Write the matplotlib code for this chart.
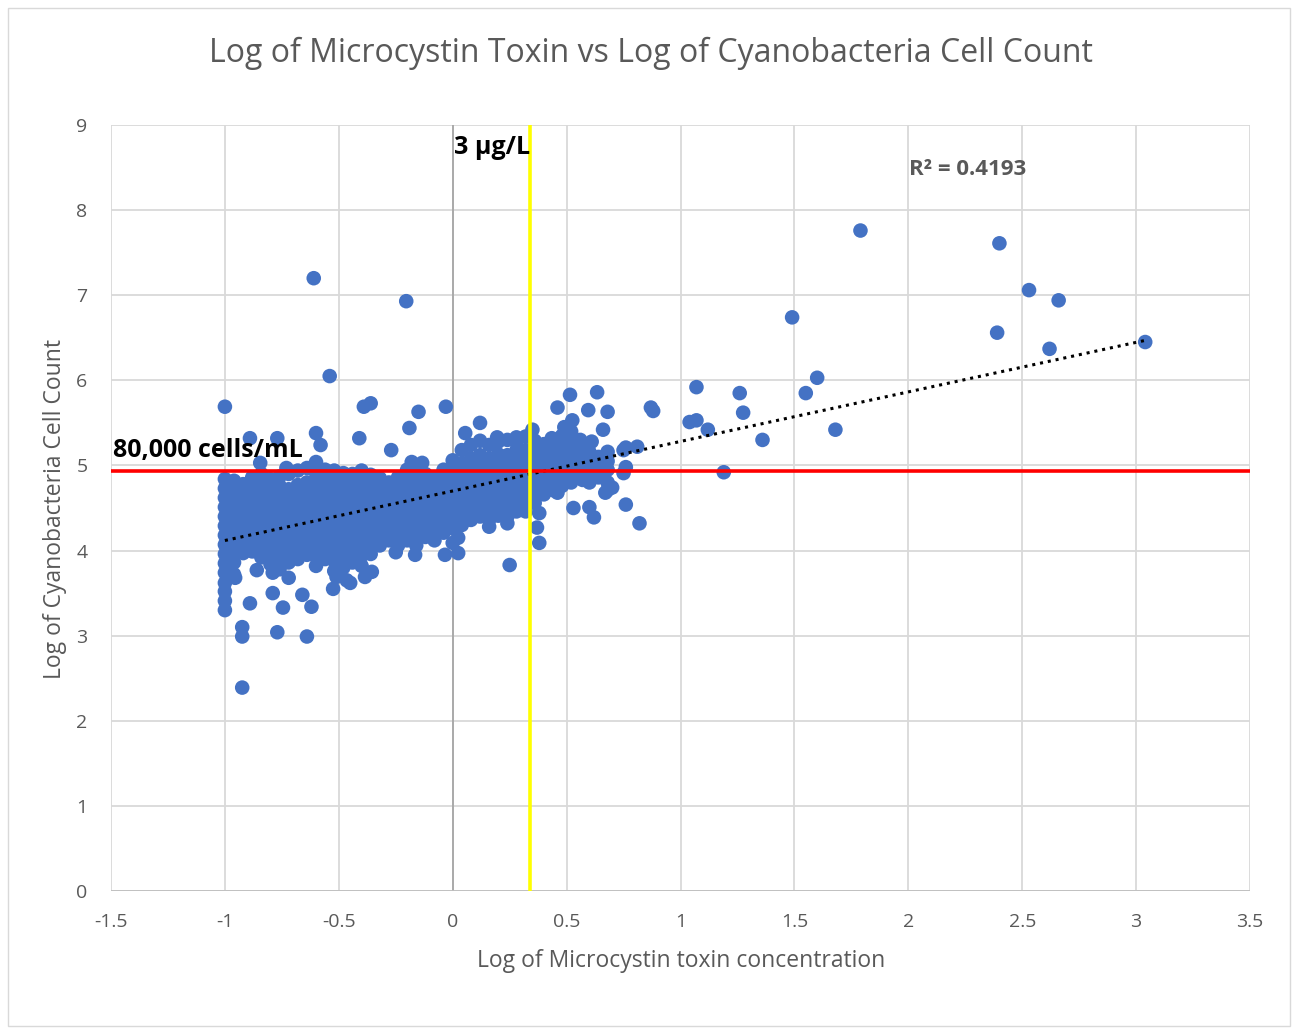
import matplotlib
matplotlib.use("Agg")
import matplotlib.pyplot as plt
from matplotlib.patches import Rectangle
import numpy as np

# ---------------- data ----------------
title = "Log of Microcystin Toxin vs Log of Cyanobacteria Cell Count"
x_label = "Log of Microcystin toxin concentration"
y_label = "Log of Cyanobacteria Cell Count"
x_ticks = [-1.5, -1, -0.5, 0, 0.5, 1, 1.5, 2, 2.5, 3, 3.5]
x_tick_labels = ["-1.5", "-1", "-0.5", "0", "0.5", "1", "1.5", "2", "2.5", "3", "3.5"]
y_ticks = [0, 1, 2, 3, 4, 5, 6, 7, 8, 9]

toxin_threshold = 0.34      # "3 µg/L" line (x)
cell_threshold = 4.935      # "80,000 cells/mL" line (y)
trend_slope = 0.582
trend_intercept = 4.70
trend_x_range = [-1.0, 3.04]
r_squared = "R² = 0.4193"

# dense cluster: columns of x with their y readings
dense_columns = [
    (-1.00, [3.52, 3.62, 3.74, 3.85, 3.96, 4.07, 4.18, 4.29, 4.40, 4.51, 4.62, 4.73, 4.84]),
    (-0.96, [3.72, 3.86, 3.98, 4.10, 4.22, 4.35, 4.46, 4.58, 4.70, 4.82]),
    (-0.92, [3.97, 4.08, 4.20, 4.31, 4.43, 4.55, 4.66, 4.78]),
    (-0.88, [3.99, 4.11, 4.24, 4.36, 4.47, 4.60, 4.72, 4.86]),
    (-0.84, [3.92, 4.04, 4.16, 4.28, 4.40, 4.52, 4.64, 4.76, 4.90]),
    (-0.80, [3.84, 3.96, 4.09, 4.21, 4.33, 4.45, 4.57, 4.70, 4.84]),
    (-0.76, [3.78, 3.90, 4.02, 4.15, 4.27, 4.39, 4.51, 4.63, 4.76, 4.87]),
    (-0.72, [3.86, 3.98, 4.10, 4.22, 4.35, 4.47, 4.60, 4.72, 4.90]),
    (-0.68, [3.90, 4.03, 4.15, 4.27, 4.40, 4.52, 4.64, 4.77, 4.94]),
    (-0.64, [3.95, 4.07, 4.19, 4.31, 4.43, 4.56, 4.68, 4.80, 4.97]),
    (-0.60, [3.82, 3.94, 4.06, 4.18, 4.30, 4.42, 4.55, 4.67, 4.79, 4.91, 5.04]),
    (-0.56, [3.90, 4.02, 4.14, 4.26, 4.38, 4.50, 4.62, 4.74, 4.86, 4.95]),
    (-0.52, [3.76, 3.88, 4.00, 4.13, 4.25, 4.37, 4.49, 4.61, 4.73, 4.85, 4.94]),
    (-0.48, [3.80, 3.93, 4.05, 4.17, 4.29, 4.41, 4.54, 4.66, 4.78, 4.91]),
    (-0.44, [3.86, 3.98, 4.10, 4.22, 4.35, 4.47, 4.59, 4.71, 4.83, 4.90]),
    (-0.40, [3.82, 3.94, 4.06, 4.19, 4.31, 4.43, 4.55, 4.68, 4.80, 4.94]),
    (-0.36, [3.96, 4.08, 4.20, 4.32, 4.45, 4.57, 4.69, 4.81, 4.89]),
    (-0.32, [4.06, 4.18, 4.30, 4.42, 4.54, 4.66, 4.78, 4.85]),
    (-0.28, [4.12, 4.24, 4.36, 4.48, 4.60, 4.72, 4.80]),
    (-0.24, [4.06, 4.18, 4.30, 4.42, 4.54, 4.66, 4.78, 4.86]),
    (-0.20, [4.12, 4.24, 4.36, 4.48, 4.60, 4.72, 4.84, 4.95]),
    (-0.16, [4.06, 4.18, 4.30, 4.42, 4.54, 4.66, 4.78, 4.93]),
    (-0.12, [4.16, 4.28, 4.40, 4.52, 4.64, 4.76, 4.90]),
    (-0.08, [4.12, 4.24, 4.36, 4.48, 4.60, 4.72, 4.85]),
    (-0.04, [4.21, 4.33, 4.45, 4.57, 4.69, 4.81, 4.95]),
    (0.00, [4.26, 4.38, 4.50, 4.62, 4.74, 4.86, 4.98, 5.06]),
    (0.04, [4.30, 4.42, 4.54, 4.66, 4.78, 4.90, 5.02, 5.18]),
    (0.08, [4.36, 4.48, 4.60, 4.72, 4.84, 4.96, 5.08, 5.24]),
    (0.12, [4.40, 4.52, 4.64, 4.76, 4.88, 5.00, 5.12, 5.29]),
    (0.16, [4.36, 4.48, 4.60, 4.72, 4.84, 4.96, 5.08, 5.24]),
    (0.20, [4.41, 4.53, 4.65, 4.77, 4.89, 5.01, 5.13, 5.28]),
    (0.24, [4.40, 4.52, 4.64, 4.76, 4.88, 5.00, 5.12, 5.30]),
    (0.28, [4.46, 4.58, 4.70, 4.82, 4.94, 5.06, 5.18, 5.28]),
    (0.32, [4.46, 4.58, 4.70, 4.82, 4.94, 5.06, 5.18, 5.34]),
    (0.36, [4.56, 4.68, 4.80, 4.92, 5.04, 5.16, 5.29]),
    (0.40, [4.66, 4.78, 4.90, 5.02, 5.14, 5.25]),
    (0.44, [4.71, 4.83, 4.95, 5.07, 5.19]),
    (0.48, [4.76, 4.88, 5.00, 5.12, 5.24, 5.35]),
    (0.52, [4.80, 4.92, 5.04, 5.16, 5.28, 5.40]),
    (0.56, [4.86, 4.98, 5.10, 5.22, 5.30]),
    (0.60, [4.80, 4.92, 5.04, 5.16]),
    (0.64, [4.86, 4.98, 5.10]),
    (0.68, [4.80, 4.95, 5.05]),
]

upper_left_points = [
    (-1.00, 5.69), (-0.61, 7.20), (-0.204, 6.93), (-0.54, 6.05), (-0.39, 5.69),
    (-0.36, 5.73), (-0.15, 5.63), (-0.03, 5.69), (-0.19, 5.44), (-0.41, 5.32),
    (-0.27, 5.18), (-0.60, 5.38), (-0.58, 5.24), (-0.89, 5.32), (-0.77, 5.32),
    (-0.845, 5.03), (-0.73, 4.97), (-0.18, 5.04), (-0.134, 5.03),
]

lower_points = [
    (-1.00, 3.41), (-1.00, 3.30), (-0.89, 3.38), (-0.924, 3.10), (-0.924, 2.99),
    (-0.77, 3.04), (-0.64, 2.99), (-0.924, 2.39), (-0.79, 3.50), (-0.745, 3.33),
    (-0.66, 3.48), (-0.62, 3.34), (-0.86, 3.77), (-0.955, 3.68), (-0.79, 3.74),
    (-0.72, 3.68), (-0.525, 3.55), (-0.465, 3.65), (-0.385, 3.69), (-0.355, 3.75),
    (-0.25, 3.98), (-0.165, 3.95), (-0.034, 3.95), (0.00, 4.09), (-0.57, 3.97),
    (-0.51, 3.69), (-0.45, 3.62), (0.024, 3.97), (0.024, 4.15),
    (0.25, 3.83), (0.38, 4.09), (0.37, 4.27), (0.38, 4.44), (0.16, 4.28), (0.24, 4.32),
]

middle_points = [
    (0.12, 5.50), (0.055, 5.38), (0.195, 5.33), (0.28, 5.33), (0.35, 5.42),
    (0.515, 5.83), (0.634, 5.86), (0.46, 5.68), (0.595, 5.65), (0.68, 5.63),
    (0.66, 5.42), (0.525, 5.53), (0.49, 5.45), (0.435, 5.32), (0.61, 5.28),
    (0.68, 5.16), (0.76, 5.21), (0.81, 5.22), (0.75, 4.91), (0.76, 4.98),
    (0.53, 4.50), (0.60, 4.51), (0.62, 4.39), (0.76, 4.54), (0.82, 4.32),
    (0.68, 4.71), (0.70, 4.74), (0.57, 4.83), (0.46, 4.68), (0.67, 4.68), (0.75, 5.18),
]

right_points = [
    (0.87, 5.68), (0.88, 5.64), (1.07, 5.92), (1.26, 5.85), (1.275, 5.62),
    (1.04, 5.51), (1.07, 5.53), (1.12, 5.42), (1.36, 5.30), (1.19, 4.92),
    (1.55, 5.85), (1.60, 6.03), (1.68, 5.42), (1.49, 6.74), (1.79, 7.76),
    (2.40, 7.61), (2.53, 7.06), (2.66, 6.94), (2.39, 6.56), (2.62, 6.37), (3.04, 6.45),
]

# ---------------- assemble ----------------
xs, ys = [], []
for cx, col in dense_columns:
    for cy in col:
        xs.append(cx)
        ys.append(cy)
for group in (upper_left_points, lower_points, middle_points, right_points):
    for px, py in group:
        xs.append(px)
        ys.append(py)

# ---------------- figure ----------------
W, H = 1292, 1028
fig = plt.figure(figsize=(W / 100, H / 100), dpi=100)
plt.rcParams['font.family'] = ['Open Sans', 'DejaVu Sans']

# chart area border
fig.patches.append(Rectangle((8 / W, 2 / H), (1290 - 8) / W, (1026 - 8) / H,
                             transform=fig.transFigure, fill=False,
                             edgecolor='#d9d9d9', linewidth=1.0))

ax = fig.add_axes([111 / W, 1 - 891 / H, (1250 - 111) / W, (891 - 125) / H])
ax.set_xlim(-1.5, 3.5)
ax.set_ylim(0, 9)

grid_c = '#d9d9d9'
for xt in x_ticks:
    ax.axvline(xt, color=grid_c, lw=1.3, zorder=0)
for yt in y_ticks:
    ax.axhline(yt, color=grid_c, lw=1.3, zorder=0)
ax.axvline(0, color='#a6a6a6', lw=1.3, zorder=0.5)
ax.axhline(0, color='#bfbfbf', lw=1.3, zorder=0.5)

for s in ax.spines.values():
    s.set_visible(False)

ax.set_xticks(x_ticks)
ax.set_xticklabels(x_tick_labels)
ax.set_yticks(y_ticks)
ax.tick_params(axis='x', length=0, labelsize=14, colors='#595959', pad=16)
ax.tick_params(axis='y', length=0, labelsize=14, colors='#595959', pad=17)

ax.scatter(xs, ys, s=110, color='#4472C4', edgecolors='none', zorder=2)

tx = np.array(trend_x_range)
ax.plot(tx, trend_slope * tx + trend_intercept, linestyle=(0, (1, 1.6)),
        color='black', lw=2.2, zorder=3)

ax.axhline(cell_threshold, color='#ff0000', lw=2.6, zorder=4)
ax.axvline(toxin_threshold, color='#ffff00', lw=2.6, zorder=4)

ax.text(toxin_threshold, 8.74, "3 µg/L", ha='right', va='center',
        fontsize=18, fontweight='bold', color='black', zorder=5)
ax.text(-1.49, 5.17, "80,000 cells/mL", ha='left', va='center',
        fontsize=18, fontweight='bold', color='black', zorder=5)
ax.text(2.26, 8.48, r_squared, ha='center', va='center',
        fontsize=16, fontweight='bold', color='#595959', zorder=5)

fig.text(681 / W, 1 - 961 / H, x_label, ha='center', va='center',
         fontsize=16.5, color='#595959')
fig.text(55 / W, 1 - 509 / H, y_label, ha='center', va='center',
         rotation=90, fontsize=16.5, color='#595959')

fig.text(651 / W, 1 - 53 / H, title, ha='center', va='center',
         fontsize=23, color='#595959')

fig.savefig("out.png", dpi=100)
